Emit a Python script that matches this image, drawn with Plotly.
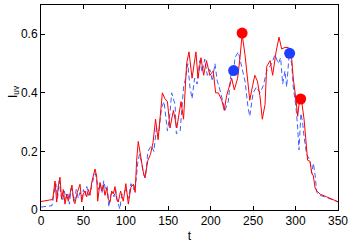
import plotly.graph_objects as go

# Red (solid) series
t_red = [0, 5, 10, 13.8, 16.5, 18.5, 20.4, 22.4, 24.3, 26.3, 28.3, 30.2, 32.2, 35, 36.5, 38.5, 40,
         42.8, 46, 48, 49.9, 51.8, 53.8, 55.8, 57.7, 59.7, 61.6, 63.6, 65.6, 66.8, 69.5, 71.5, 73.4,
         75.4, 77.4, 79.3, 81.3, 83.3, 85.2, 87.2, 89.2, 91, 93.8, 97, 100, 102.9, 106, 108.8, 111,
         112.7, 114.6, 116.6, 118.6, 120.5, 122.5, 124.5, 126, 129, 132, 135, 138, 143, 146, 149,
         152, 156, 160, 165, 168, 171.6, 174.4, 178, 182.6, 185, 188.5, 191.7, 195, 199, 203, 205.8,
         209, 213, 216, 218.7, 221.5, 224.7, 227.8, 231.7, 234.5, 237, 240.4, 243.5, 246, 249.4,
         252, 255, 258, 260.8, 264, 266, 270, 273, 277, 280.5, 283.6, 287.5, 291.4, 295.3, 297.3,
         300.5, 302.5, 304.4, 307, 310, 312.3, 314.2, 317, 319, 321, 323, 325, 329, 336.6, 343, 350]
v_red = [0.029, 0.031, 0.034, 0.036, 0.099, 0.027, 0.082, 0.112, 0.037, 0.07, 0.02, 0.054, 0.03,
         0.06, 0.085, 0.03, 0.022, 0.06, 0.088, 0.027, 0.054, 0.065, 0.045, 0.07, 0.05, 0.093, 0.12,
         0.14, 0.116, 0.03, 0.094, 0.065, 0.085, 0.05, 0.075, 0.037, 0.027, 0.065, 0.055, 0.08,
         0.037, 0.027, 0.065, 0.03, 0.09, 0.02, 0.078, 0.088, 0.06, 0.17, 0.234, 0.195, 0.15, 0.13,
         0.11, 0.14, 0.17, 0.19, 0.23, 0.31, 0.24, 0.40, 0.38, 0.37, 0.28, 0.34, 0.28, 0.37, 0.31,
         0.50, 0.54, 0.45, 0.54, 0.45, 0.52, 0.46, 0.51, 0.46, 0.475, 0.40, 0.40, 0.375, 0.34, 0.39,
         0.42, 0.45, 0.41, 0.45, 0.52, 0.60, 0.53, 0.44, 0.375, 0.425, 0.46, 0.44, 0.39, 0.31, 0.36,
         0.49, 0.51, 0.46, 0.54, 0.59, 0.55, 0.555, 0.555, 0.52, 0.45, 0.375, 0.32, 0.37, 0.375,
         0.31, 0.24, 0.17, 0.166, 0.127, 0.116, 0.075, 0.065, 0.054, 0.045, 0.036, 0.028]

# Blue (dashed) series
t_blue = [0, 5, 10, 13, 15.5, 17.5, 19.5, 21.5, 23.5, 25.5, 27.5, 29.5, 31.5, 33.5, 35.5, 37.5,
          39.5, 41.5, 44, 46, 48, 50, 52, 54, 56, 58, 60, 62, 64, 66, 68, 70, 72, 74, 76, 78, 80,
          82, 84, 86, 88, 90, 93, 95, 98, 100, 103, 106, 109, 112, 114, 116, 118, 121, 123, 126,
          130, 133, 136, 139, 142, 145, 149, 152, 154, 158, 159.5, 164, 168, 170.4, 173, 175.5,
          178, 181, 184, 187, 190, 193, 196, 199, 202, 205, 207.7, 210, 213, 216.8, 220.7, 223.9,
          227, 228.6, 232.5, 236.5, 240.4, 244, 246, 250, 254, 258, 262, 266, 271.8, 275.7, 279.6,
          282.4, 284.8, 287.5, 289.5, 292.6, 295.4, 297.3, 300.5, 302.5, 304, 306.3, 308.2, 310,
          313, 317, 319, 321, 323, 325, 329, 337, 343, 350]
v_blue = [0.01, 0.011, 0.012, 0.015, 0.06, 0.09, 0.04, 0.1, 0.05, 0.03, 0.065, 0.04, 0.06, 0.02,
          0.075, 0.05, 0.03, 0.07, 0.04, 0.06, 0.04, 0.07, 0.05, 0.08, 0.05, 0.06, 0.09, 0.11,
          0.125, 0.1, 0.07, 0.09, 0.06, 0.1, 0.07, 0.08, 0.01, 0.05, 0.06, 0.045, 0.07, 0.03,
          0.003, 0.05, 0.06, 0.07, 0.04, 0.09, 0.07, 0.1, 0.16, 0.19, 0.17, 0.12, 0.11, 0.2, 0.22,
          0.2, 0.28, 0.27, 0.35, 0.37, 0.27, 0.33, 0.40, 0.36, 0.26, 0.27, 0.42, 0.45, 0.50, 0.42,
          0.38, 0.45, 0.43, 0.51, 0.47, 0.515, 0.46, 0.48, 0.44, 0.50, 0.44, 0.42, 0.385, 0.34,
          0.37, 0.465, 0.47, 0.52, 0.54, 0.49, 0.44, 0.35, 0.32, 0.40, 0.42, 0.40, 0.425, 0.475,
          0.50, 0.53, 0.50, 0.52, 0.43, 0.475, 0.42, 0.537, 0.50, 0.42, 0.35, 0.28, 0.205, 0.33,
          0.30, 0.25, 0.19, 0.17, 0.125, 0.16, 0.12, 0.06, 0.05, 0.042, 0.035, 0.028]

# Highlighted points
t_red_pts = [237, 306]
v_red_pts = [0.604, 0.379]
t_blue_pts = [227, 293]
v_blue_pts = [0.476, 0.535]

x_ticks = [0, 50, 100, 150, 200, 250, 300, 350]
y_ticks = [0, 0.2, 0.4, 0.6]
y_tick_labels = ["0", "0.2", "0.4", "0.6"]

fig = go.Figure()
fig.add_trace(go.Scatter(x=t_blue, y=v_blue, mode="lines",
                         line=dict(color="#3f5fff", width=1, dash="5px,3px")))
fig.add_trace(go.Scatter(x=t_red, y=v_red, mode="lines",
                         line=dict(color="#ff0000", width=1)))
fig.add_trace(go.Scatter(x=t_blue_pts, y=v_blue_pts, mode="markers",
                         marker=dict(color="#1f3fff", size=11)))
fig.add_trace(go.Scatter(x=t_red_pts, y=v_red_pts, mode="markers",
                         marker=dict(color="#ff0000", size=11)))

axis_common = dict(showline=True, linecolor="black", linewidth=1, mirror="ticks",
                   ticks="inside", ticklen=4, tickcolor="black", showgrid=False,
                   zeroline=False, tickfont=dict(family="Liberation Sans, Arial", size=12, color="black"))

fig.update_layout(
    width=354, height=245,
    margin=dict(l=41, r=16, t=4, b=34),
    paper_bgcolor="white", plot_bgcolor="white",
    showlegend=False,
    font=dict(family="Liberation Sans, Arial", size=12, color="black"),
    xaxis=dict(range=[0, 350], tickvals=x_ticks, ticktext=[str(v) for v in x_ticks],
               title=dict(text="t", standoff=4, font=dict(size=12)), **axis_common),
    yaxis=dict(range=[0, 0.7], tickvals=y_ticks, ticktext=y_tick_labels, **axis_common),
    annotations=[dict(text="I<sub>uv</sub>", xref="paper", yref="paper", x=-0.125, y=0.58,
                      showarrow=False, textangle=-90, font=dict(size=12, color="black"))],
)

fig.write_html("out.html", config={"displayModeBar": False},
               post_script="document.body.style.margin='0';document.body.style.overflow='hidden';")
